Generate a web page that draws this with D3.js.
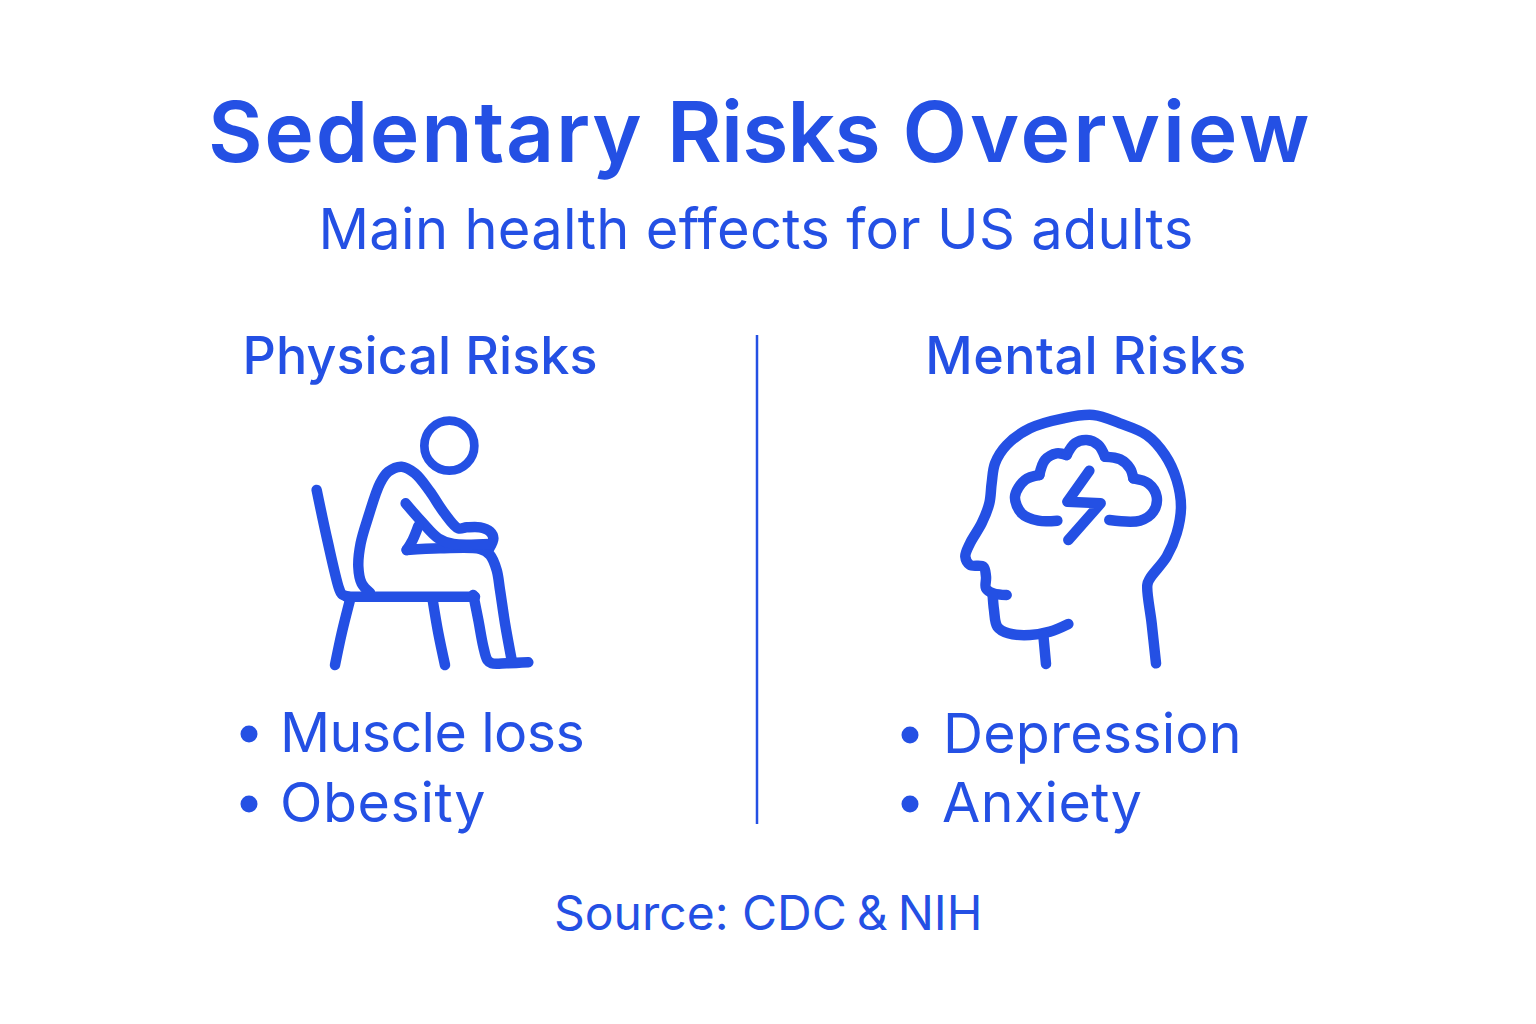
<!DOCTYPE html>
<html>
<head>
<meta charset="utf-8">
<script src="https://cdnjs.cloudflare.com/ajax/libs/d3/7.8.5/d3.min.js"></script>
<style>
  html, body { margin: 0; background: #fff; }
  text { font-family: Inter, "Noto Sans", sans-serif; fill: #2450e4; }
</style>
</head>
<body>
<div id="chart"></div>
<script>
// Texts
const titleWords = ["Sedentary", "Risks", "Overview"];
const subtitle = "Main health effects for US adults";
const sourceParts = ["Source: CDC", "&", "NIH"];
const headings = ["Physical Risks", "Mental Risks"];
const physicalRisks = ["Muscle loss", "Obesity"];
const mentalRisks = ["Depression", "Anxiety"];

const chairBack = [[80, 270], [112, 420], [147, 565], [155, 582], [175, 590]];
const chairSeat = [[170, 590], [555, 590]];
const chairFrontLeg = [[180, 600], [155, 700], [135, 795]];
const chairRearLeg = [[428, 600], [445, 700], [465, 795]];
const bodyBack = [[240, 578], [215, 550], [205, 500], [212, 430], [235, 350], [270, 250], [295, 215], [335, 200], [375, 220], [420, 275], [460, 335], [505, 385], [530, 382], [570, 382], [600, 395], [610, 415], [598, 445]];
const thighTop = [[350, 450], [450, 445], [570, 447], [600, 465], [620, 510], [630, 570], [645, 670], [665, 780]];
const shin = [[550, 585], [565, 660], [580, 740], [592, 780], [605, 790], [650, 790], [715, 787]];
const forearm = [[347, 310], [395, 365], [445, 415], [490, 432], [600, 432]];
const armGap = [[385, 378], [368, 420], [350, 450]];

const headBack = [[618, 790], [605, 670], [592, 555], [600, 535], [650, 470], [680, 400], [693, 320], [680, 240], [645, 165], [590, 105], [510, 70], [430, 45], [340, 55], [240, 85], [170, 135], [135, 190], [125, 250], [118, 310], [95, 370], [60, 430], [46, 470], [60, 495], [100, 500], [108, 530], [108, 565], [130, 580], [170, 585]];
const jaw = [[128, 585], [132, 630], [142, 680], [175, 700], [240, 705], [300, 695], [355, 672]];
const neck = [[280, 705], [288, 792]];
const cloudLobes = [
  [[322, 362], [265, 362], [215, 340], [195, 290], [225, 240], [268, 225]],
  [[268, 225], [285, 180], [320, 160], [350, 165]],
  [[350, 165], [375, 130], [410, 120], [445, 135], [465, 170]],
  [[465, 170], [510, 178], [540, 205], [550, 235]],
  [[550, 235], [595, 250], [620, 290], [610, 335], [570, 362], [478, 360]]
];
const bolt = [[418, 212], [352, 305], [452, 310], [355, 420]];

const [w, h] = [1536, 1024];
const blue = "#2450e4";

const svg = d3.select("#chart").append("svg")
  .attr("width", w)
  .attr("height", h)
  .style("display", "block");

function addText(str, x, y, size, weight, anchor, spacing) {
  return svg.append("text")
    .attr("x", x)
    .attr("y", y)
    .attr("text-anchor", anchor || "middle")
    .attr("font-size", size)
    .attr("font-weight", weight)
    .attr("letter-spacing", spacing || 0)
    .text(str);
}

// Title, word by word because the reference spaces them unevenly
addText(titleWords[0], 208, 162, 84, 600, "start", 1.7);
addText(titleWords[1], 667, 162, 84, 600, "start", -0.8);
addText(titleWords[2], 902.5, 162, 84, 600, "start", 2.9);

addText(subtitle, 756, 249, 56, 400, "middle", 0.3);
addText(headings[0], 420, 374, 52, 500, "middle", 0.1);
addText(headings[1], 1086, 374, 52, 500, "middle", 0.5);

// Source line, the ampersand sits tighter than a normal word space
const sourceLine = addText("", 554, 930, 48, 400, "start");
sourceParts.forEach((d, i) => {
  sourceLine.append("tspan").attr("dx", i ? -3.5 : 0).text((i ? " " : "") + d);
});

// Divider
svg.append("line")
  .attr("x1", 757).attr("x2", 757)
  .attr("y1", 335).attr("y2", 824)
  .attr("stroke", blue)
  .attr("stroke-width", 2.5);

// Bullet lists
function addList(items, bulletX, textX, rows, spacing) {
  items.forEach((d, i) => {
    svg.append("circle")
      .attr("cx", bulletX)
      .attr("cy", rows[i] - 18)
      .attr("r", 8.5)
      .attr("fill", blue);
    addText(d, textX[i], rows[i], 55.5, 400, "start", spacing[i]);
  });
}
addList(physicalRisks, 249, [280, 280], [752, 822], [-0.6, 0.6]);
addList(mentalRisks, 910, [943, 942], [753, 822], [0.2, 0.4]);

// Icons: crop pixels mapped back onto the page
function addIcon(x0, y0, curved, straight) {
  const xScale = d3.scaleLinear().domain([0, 3]).range([x0, x0 + 1]);
  const yScale = d3.scaleLinear().domain([0, 3]).range([y0, y0 + 1]);
  const smooth = d3.line().x(d => xScale(d[0])).y(d => yScale(d[1])).curve(d3.curveCatmullRom.alpha(0.5));
  const plain = d3.line().x(d => xScale(d[0])).y(d => yScale(d[1]));
  const g = svg.append("g")
    .attr("fill", "none")
    .attr("stroke", blue)
    .attr("stroke-width", 10.5)
    .attr("stroke-linecap", "round")
    .attr("stroke-linejoin", "round");
  curved.forEach(pts => g.append("path").attr("d", smooth(pts)));
  straight.forEach(pts => g.append("path").attr("d", plain(pts)));
  return { g, xScale, yScale };
}

const person = addIcon(290, 400,
  [chairBack, chairFrontLeg, chairRearLeg, bodyBack, thighTop, shin, forearm, armGap],
  [chairSeat]);
person.g.append("circle")
  .attr("cx", person.xScale(478))
  .attr("cy", person.yScale(137))
  .attr("r", 25)
  .attr("stroke-width", 8.7);

addIcon(950, 400, [headBack, jaw, neck, ...cloudLobes], [bolt]);
</script>
</body>
</html>
